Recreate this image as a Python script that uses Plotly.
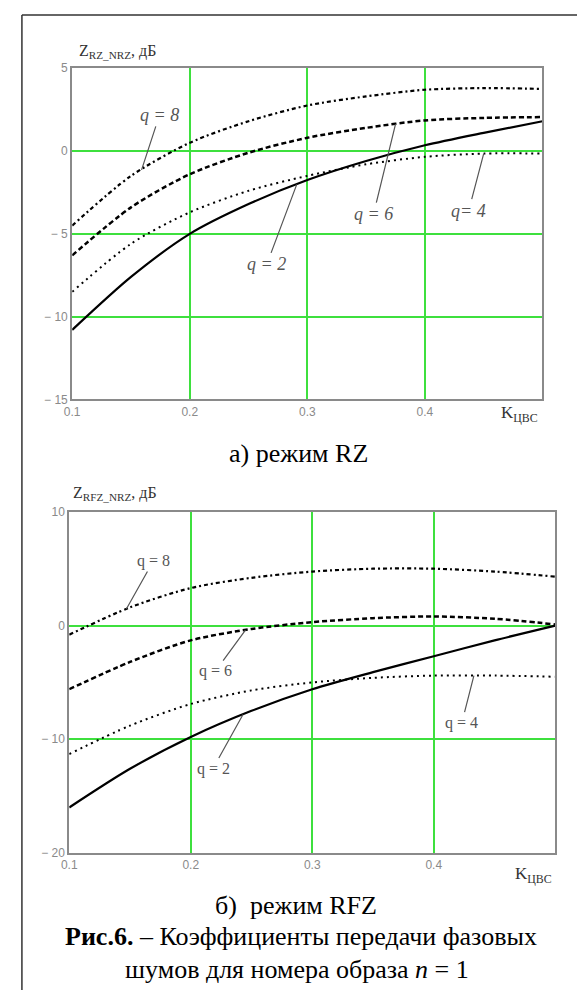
import numpy as np
import plotly.graph_objects as go

# ---------------- data ----------------
k = [0.10, 0.15, 0.20, 0.25, 0.30, 0.35, 0.40, 0.45, 0.50]

# (a) RZ mode
rz_q2 = [-10.8, -7.6, -5.0, -3.2, -1.75, -0.6, 0.35, 1.1, 1.8]
rz_q4 = [-8.5, -5.6, -3.7, -2.4, -1.5, -0.8, -0.35, -0.15, -0.15]
rz_q6 = [-6.3, -3.4, -1.4, -0.1, 0.8, 1.4, 1.85, 2.0, 2.05]
rz_q8 = [-4.5, -1.5, 0.5, 1.8, 2.75, 3.3, 3.7, 3.8, 3.75]

# (b) RFZ mode
rfz_q2 = [-16.0, -12.6, -9.8, -7.5, -5.6, -4.1, -2.7, -1.3, 0.0]
rfz_q4 = [-11.3, -8.8, -6.9, -5.7, -5.0, -4.6, -4.4, -4.4, -4.5]
rfz_q6 = [-5.6, -3.2, -1.3, -0.3, 0.3, 0.65, 0.8, 0.6, 0.1]
rfz_q8 = [-0.8, 1.6, 3.3, 4.2, 4.75, 5.0, 5.0, 4.75, 4.3]

x_ticks = [0.1, 0.2, 0.3, 0.4]
x_ticktext = ["0.1", "0.2", "0.3", "0.4"]
rz_yticks = [5, 0, -5, -10, -15]
rz_yticktext = ["5", "0", "\u2212 5", "\u2212 10", "\u2212 15"]
rfz_yticks = [10, 0, -10, -20]
rfz_yticktext = ["10", "0", "\u2212 10", "\u2212 20"]

# figure sized so that, with the page's 8px body margin, it fills the window
OFF = 8
FW, FH = 585 - 2 * OFF, 1005 - 2 * OFF


def px(x):
    return (x - OFF) / FW


def py(y):
    return 1 - (y - OFF) / FH


styles = {
    "q2": dict(dash="solid", width=2.2),
    "q4": dict(dash="2px,4px", width=2),
    "q6": dict(dash="5px,3px", width=2.5),
    "q8": dict(dash="4px,3px,2px,3px", width=2.2),
}

fig = go.Figure()


def add_set(series, xa, ya):
    for name, vals in series:
        fig.add_trace(go.Scatter(
            x=k, y=vals, mode="lines", xaxis=xa, yaxis=ya,
            line=dict(color="black", shape="spline", smoothing=0.8, **styles[name]),
            showlegend=False, hoverinfo="skip"))


add_set([("q4", rz_q4), ("q6", rz_q6), ("q8", rz_q8), ("q2", rz_q2)], "x", "y")
add_set([("q4", rfz_q4), ("q6", rfz_q6), ("q8", rfz_q8), ("q2", rfz_q2)], "x2", "y2")

grid_col = "#3ee03e"
axis_common = dict(showline=True, mirror=True, linecolor="#8a8a8a", linewidth=2,
                   showgrid=True, gridcolor=grid_col, gridwidth=1.5,
                   zeroline=False, ticks="",
                   tickfont=dict(family="Liberation Sans, Arial", size=12, color="#8a8a8a"))

fig.update_layout(
    width=FW, height=FH, margin=dict(l=0, r=0, t=0, b=0),
    paper_bgcolor="white", plot_bgcolor="white",
    xaxis=dict(domain=[px(65), px(542)], range=[0.1, 0.5], anchor="y",
               tickvals=x_ticks, ticktext=x_ticktext, **axis_common),
    yaxis=dict(domain=[py(398), py(62)], range=[-15, 5], anchor="x",
               tickvals=rz_yticks, ticktext=rz_yticktext, **axis_common),
    xaxis2=dict(domain=[px(62), px(555)], range=[0.1, 0.5], anchor="y2",
                tickvals=x_ticks, ticktext=x_ticktext, **axis_common),
    yaxis2=dict(domain=[py(858), py(512)], range=[-20, 10], anchor="x2",
                tickvals=rfz_yticks, ticktext=rfz_yticktext, **axis_common),
)

# outer frame (left and top edges)
fig.add_shape(type="line", xref="paper", yref="paper", x0=px(14), x1=px(14), y0=0, y1=py(8),
              line=dict(color="#333", width=1.5))
fig.add_shape(type="line", xref="paper", yref="paper", x0=px(14), x1=1, y0=py(8), y1=py(8),
              line=dict(color="#333", width=1.5))


# curve labels with leader lines
def label(text, xv, series, xa, ya, ax, ay, italic, size):
    yv = float(np.interp(xv, k, series))
    fig.add_annotation(x=xv, y=yv, xref=xa, yref=ya,
                       text=("<i>" + text + "</i>") if italic else text,
                       showarrow=True, arrowhead=0, arrowwidth=1.2, arrowcolor="#555",
                       ax=ax, ay=ay, standoff=0,
                       font=dict(family="Liberation Serif", size=size, color="#555"))


label("q = 8", 0.159, rz_q8, "x", "y", 18, -55, True, 18)
label("q = 6", 0.375, rz_q6, "x", "y", -22, 90, True, 18)
label("q= 4", 0.450, rz_q4, "x", "y", -15, 57, True, 18)
label("q = 2", 0.291, rz_q2, "x", "y", -30, 80, True, 18)

label("q = 8", 0.147, rfz_q8, "x2", "y2", 27, -48, False, 16)
label("q = 6", 0.245, rfz_q6, "x2", "y2", -30, 41, False, 16)
label("q = 4", 0.433, rfz_q4, "x2", "y2", -12, 47, False, 16)
label("q = 2", 0.243, rfz_q2, "x2", "y2", -30, 54, False, 16)


def ptext(text, x, y, size, xanchor="center", color="black", family="Liberation Serif"):
    fig.add_annotation(x=px(x), y=py(y), xref="paper", yref="paper", text=text,
                       showarrow=False, xanchor=xanchor, yanchor="middle",
                       font=dict(family=family, size=size, color=color))


# axis titles
ptext("Z<sub>RZ_NRZ</sub>, дБ", 70, 45, 16, xanchor="left", color="#333")
ptext("K<sub>ЦВС</sub>", 498, 413, 17, xanchor="left", color="#333")
ptext("Z<sub>RFZ_NRZ</sub>, дБ", 64, 493, 16, xanchor="left", color="#333")
ptext("K<sub>ЦВС</sub>", 512, 880, 17, xanchor="left", color="#333")

# captions
ptext("а) режим RZ", 295, 453, 26)
ptext("б)  режим RFZ", 292, 911, 26)
ptext("<b>Рис.6.</b> – Коэффициенты передачи фазовых", 297, 943, 26)
ptext("шумов для номера образа <i>n</i> = 1", 293, 976, 26)

fig.write_html("out.html")
